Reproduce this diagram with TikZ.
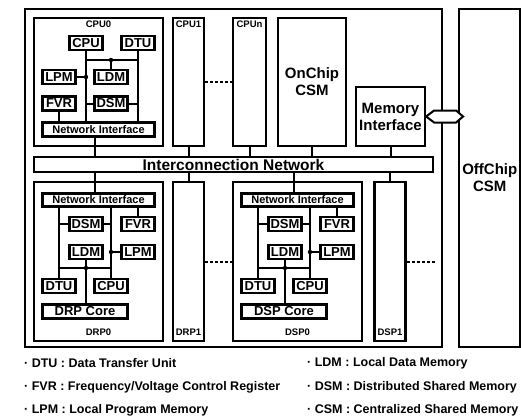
\documentclass[tikz,border=0pt]{standalone}
\usepackage{fontspec}
\setmainfont{Liberation Sans}
\tikzset{
  chip/.style={draw, line width=2.6pt},
  unitbox/.style={draw, line width=2.2pt, inner sep=1pt},
  blk/.style={draw, fill=white, line width=2.8pt, inner sep=0pt, minimum width=33.5pt, minimum height=14pt, font=\bfseries\fontsize{13}{14}\selectfont},
  nif/.style={blk, minimum width=112pt, font=\bfseries\fontsize{11}{12}\selectfont},
  big/.style={align=center, font=\bfseries\fontsize{15}{17}\selectfont},
  tag/.style={font=\bfseries\fontsize{9.5}{10}\selectfont, inner sep=0pt},
  wire/.style={line width=2pt},
  dots/.style={line width=2pt, dash pattern=on 3pt off 2pt},
  note/.style={anchor=west, inner sep=0pt, font=\bfseries\fontsize{12.5}{14}\selectfont}
}
\begin{document}
\begin{tikzpicture}[x=1pt, y=-1pt]
\useasboundingbox (0,0) rectangle (521,415);

% chip and off-chip memory
\node[chip, minimum width=417pt, minimum height=338pt] (chip) at (233.5,178) {};
\node[chip, big, minimum width=59pt, minimum height=338pt] (offchip) at (489.75,178) {OffChip\\CSM};

% upper row
\node[unitbox, minimum width=129pt, minimum height=128pt] (cpu0) at (98.5,82) {};
\node[tag] (cpu0lbl) at (98.5,24) {CPU0};
\node[unitbox, minimum width=31pt, minimum height=128pt] (cpu1) at (188.5,82) {};
\node[tag] (cpu1lbl) at (188.5,24) {CPU1};
\node[unitbox, minimum width=33pt, minimum height=128pt] (cpun) at (249.5,82) {};
\node[tag] (cpunlbl) at (249.5,24) {CPUn};
\node[unitbox, big, minimum width=68pt, minimum height=128pt] (onchip) at (312,82) {OnChip\\CSM};
\node[unitbox, big, minimum width=69pt, minimum height=59pt] (memif) at (390.5,116.5) {Memory\\Interface};

\node[unitbox, inner sep=0pt, minimum width=399pt, minimum height=15pt,
      font=\bfseries\fontsize{15.5}{16}\selectfont] (icn) at (233.5,164.5) {Interconnection Network};

% CPU0 contents
\node[blk] (c0cpu) at (86,43) {CPU};
\node[blk] (c0dtu) at (138,43) {DTU};
\node[blk] (c0lpm) at (59,77) {LPM};
\node[blk] (c0ldm) at (111,77) {LDM};
\node[blk] (c0fvr) at (59,103.5) {FVR};
\node[blk] (c0dsm) at (111,103.5) {DSM};
\node[nif] (c0ni) at (98.5,129.5) {Network Interface};
\coordinate (c0bus) at (111,60);

\draw[wire] (c0cpu) -- (c0cpu |- c0ni.north);
\draw[wire] (c0dtu) -- (c0dtu |- c0ni.north);
\draw[wire] (c0cpu |- c0bus) -- (c0dtu |- c0bus);
\draw[wire] (c0ldm) -- (c0bus);
\fill (c0bus) circle (2.2pt);
\draw[wire] (c0lpm) -- (c0lpm -| c0cpu);
\fill (c0lpm -| c0cpu) circle (2.2pt);
\draw[wire] (c0dsm.west) -- (c0dsm -| c0cpu);
\draw[wire] (c0dsm.east) -- (c0dsm -| c0dtu);
\draw[wire] (c0fvr) -- (c0fvr |- c0ni.north);
\draw[wire] ([xshift=-4pt]c0ni.south) -- ([xshift=-4pt]c0ni.south |- icn.north);

\draw[wire] (cpu1) -- (cpu1 |- icn.north);
\draw[wire] (cpun) -- (cpun |- icn.north);
\draw[wire] (onchip) -- (onchip |- icn.north);
\draw[wire] (memif) -- (memif |- icn.north);
\draw[dots] (cpu1.east) -- (cpun.west);

% memory interface to off-chip CSM
\draw[line width=2pt, fill=white] (memif.east) -- ++(8,-6) -- ++(22,0) -- ++(7,6)
  -- ++(-7,6) -- ++(-22,0) -- cycle;

% lower row: DRP and DSP clusters
\foreach \p/\dx/\core/\sx in {drp/0/DRP/188.5, dsp/199/DSP/390} {
  \begin{scope}[xshift=\dx pt]
    \node[unitbox, minimum width=129pt, minimum height=159pt] (\p0) at (98.5,261.5) {};
    \node[tag] (\p0lbl) at (98.5,332) {\core0};
    \node[nif, minimum height=12.5pt] (\p ni) at (98.5,200) {Network Interface};
    \node[blk] (\p dsm) at (86,224) {DSM};
    \node[blk] (\p fvr) at (138,224) {FVR};
    \node[blk] (\p ldm) at (86,252) {LDM};
    \node[blk] (\p lpm) at (138,252) {LPM};
    \node[blk] (\p dtu) at (59,286) {DTU};
    \node[blk] (\p cpu) at (111,286) {CPU};
    \node[blk, minimum width=85pt] (\p core) at (85,311.5) {\core\ Core};
    \coordinate (\p bus) at (86,268);
  \end{scope}
  \node[unitbox, minimum width=31pt, minimum height=159pt] (\p1) at (\sx,261.5) {};
  \node[tag] (\p1lbl) at (\sx,332) {\core1};

  \draw[wire] ([xshift=-4pt]\p ni.north) -- ([xshift=-4pt]\p ni.north |- icn.south);
  \draw[wire] (\p1) -- (\p1 |- icn.south);
  \draw[wire] (\p dtu) -- (\p dtu |- \p ni.south);
  \draw[wire] (\p cpu) -- (\p cpu |- \p ni.south);
  \draw[wire] (\p fvr) -- (\p fvr |- \p ni.south);
  \draw[wire] (\p dsm.west) -- (\p dsm -| \p dtu);
  \draw[wire] (\p dsm.east) -- (\p dsm -| \p cpu);
  \draw[wire] (\p lpm) -- (\p lpm -| \p cpu);
  \fill (\p lpm -| \p cpu) circle (2.2pt);
  \draw[wire] (\p dtu |- \p bus) -- (\p cpu |- \p bus);
  \draw[wire] (\p ldm) -- (\p ldm |- \p core.north);
  \fill (\p bus) circle (2.2pt);
}
\coordinate (dspend) at (435,261.5);
\draw[dots] (drp1.east) -- (dsp0.west);
\draw[dots] (dsp1.east) -- (dspend);

% abbreviations
\node[note] (k1) at (24,363) {· DTU : Data Transfer Unit};
\node[note] (k2) at (24,387) {· FVR : Frequency/Voltage Control Register};
\node[note] (k3) at (24,410) {· LPM : Local Program Memory};
\node[note] (k4) at (307,363) {· LDM : Local Data Memory};
\node[note] (k5) at (307,387) {· DSM : Distributed Shared Memory};
\node[note] (k6) at (307,410) {· CSM : Centralized Shared Memory};
\end{tikzpicture}
\end{document}
